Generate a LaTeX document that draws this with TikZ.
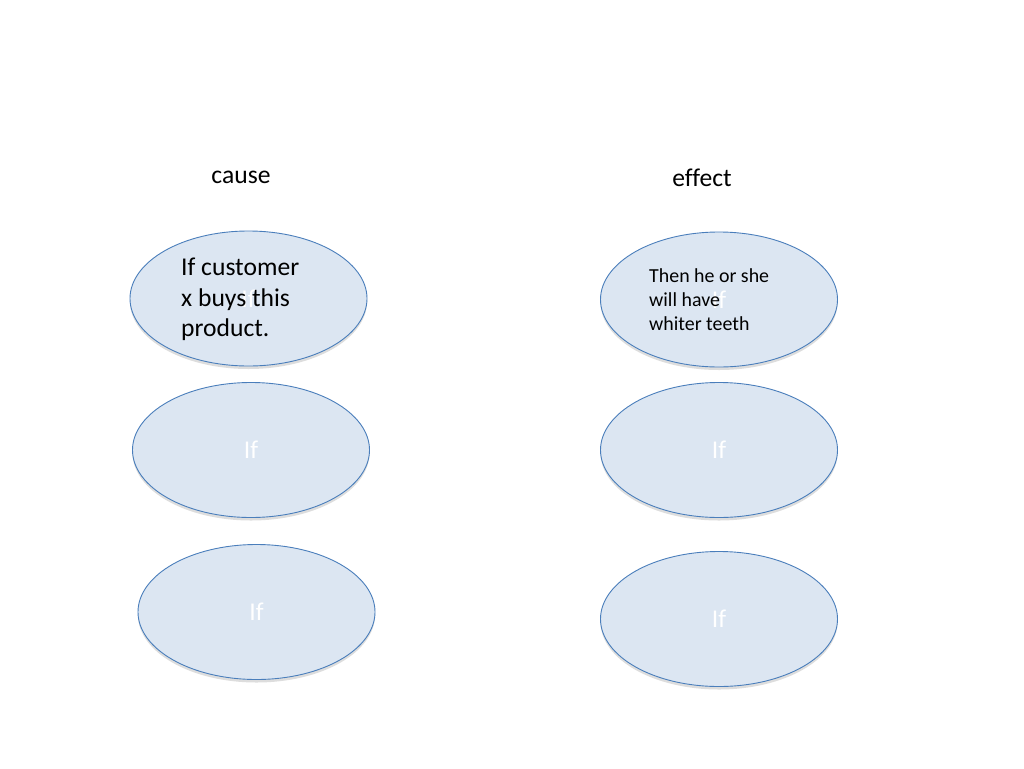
\documentclass[tikz,border=0pt]{standalone}
\usepackage{fontspec}
\setmainfont{Carlito}[Ligatures=NoCommon]
\usetikzlibrary{shapes.geometric,shadows}
\definecolor{ovfill}{HTML}{DCE6F2}
\definecolor{ovdraw}{HTML}{4A7EBB}
\tikzset{
  oval/.style={ellipse, draw=ovdraw, line width=0.9pt, fill=ovfill,
    minimum width=237pt, minimum height=135pt, inner sep=0pt,
    text=white, font=\fontsize{25.6}{30.7}\selectfont,
    drop shadow={shadow xshift=0pt, shadow yshift=-3pt, opacity=0.22, fill=black!60}},
  head/.style={font=\fontsize{25.6}{30.7}\selectfont, inner sep=0pt},
  big/.style={font=\fontsize{25.6}{30.7}\selectfont, align=left, anchor=west, inner sep=0pt},
  small/.style={font=\fontsize{19.9}{24}\selectfont, align=left, anchor=west, inner sep=0pt}
}
\begin{document}
\begin{tikzpicture}[x=1pt,y=-1pt]
\useasboundingbox (0,0) rectangle (1024,768);
\fill[white] (0,0) rectangle (1024,768);
\node[head] (cause) at (241,177) {cause};
\node[head] (effect) at (702,178) {effect};
\node[oval] (c1) at (248.5,298.5) {If};
\node[oval] (c2) at (251,450) {If};
\node[oval] (c3) at (256.5,612) {If};
\node[oval] (e1) at (719,299.5) {If};
\node[oval] (e2) at (719,450) {If};
\node[oval] (e3) at (719,619) {If};
\node[big] (t1) at (181,299.5) {If customer\\x buys this\\product.};
\node[small] (t2) at (649,300) {Then he or she\\will have\\whiter teeth};
\end{tikzpicture}
\end{document}
